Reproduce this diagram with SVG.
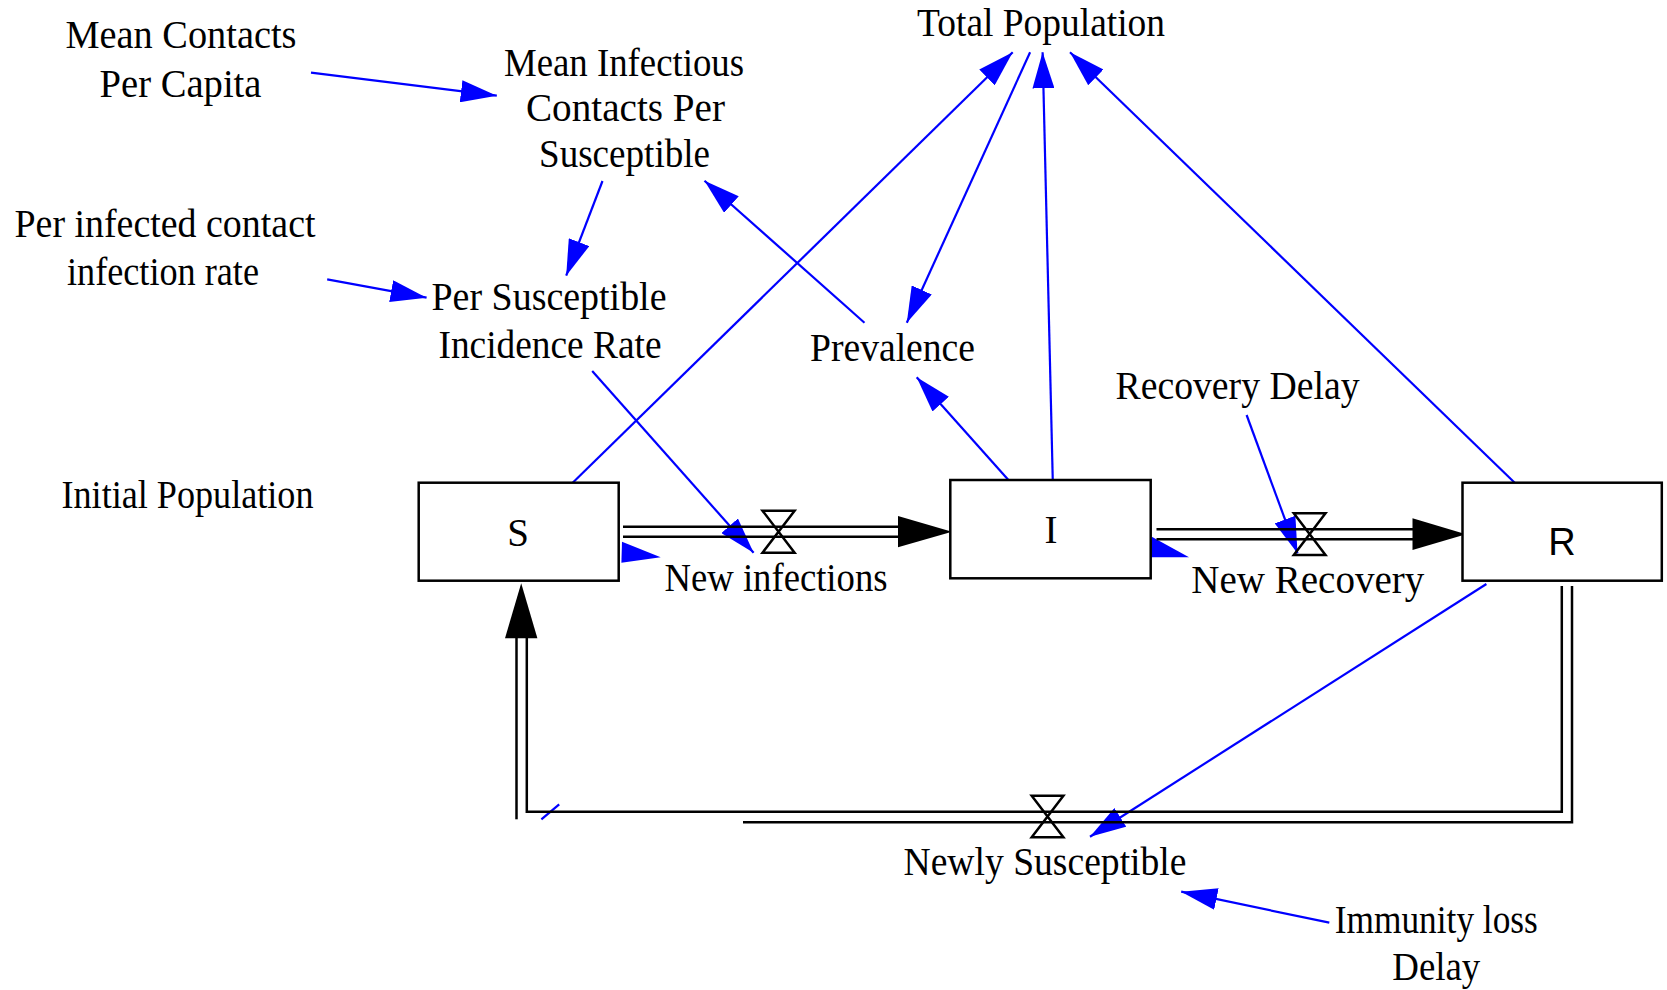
<svg xmlns="http://www.w3.org/2000/svg" width="1667" height="990" viewBox="0 0 1667 990">
<style>
  text { font-family: "Liberation Serif", "Times New Roman", serif; font-size: 39px; fill: #000; text-anchor: middle; }
  .sans { font-family: "Liberation Sans", Arial, sans-serif; font-size: 38px; }
  .box { fill: #fff; stroke: #000; stroke-width: 2.5; }
  .pipe { fill: none; stroke: #000; stroke-width: 2.5; }
  .valve { fill: none; stroke: #000; stroke-width: 2.5; stroke-linejoin: miter; }
  .link { fill: none; stroke: #0000ff; stroke-width: 2.2; marker-end: url(#ah); }
  .blue { fill: #0000ff; stroke: none; }
  .flowhead { fill: #000; stroke: none; }
</style>
<defs>
  <marker id="ah" markerUnits="userSpaceOnUse" markerWidth="36" markerHeight="22" refX="36" refY="11" orient="auto">
    <path d="M0,0 L36,11 L0,22 Z" fill="#0000ff"/>
  </marker>
</defs>
<rect width="1667" height="990" fill="#fff"/>

<g id="connectors">
  <line class="link" x1="311" y1="72.7" x2="496.8" y2="95.7"/>
  <line class="link" x1="327.2" y1="279.3" x2="426.6" y2="297.7"/>
  <line class="link" x1="602.5" y1="181" x2="566.2" y2="275.7"/>
  <line class="link" x1="864.5" y1="322.7" x2="704.5" y2="180.7"/>
  <line class="link" x1="571.4" y1="484" x2="1012.7" y2="52.3"/>
  <line class="link" x1="1030.1" y1="52.3" x2="906.8" y2="322.7"/>
  <line class="link" x1="1052.8" y1="481.7" x2="1042.6" y2="52.3"/>
  <line class="link" x1="1516" y1="484" x2="1070" y2="52.3"/>
  <line class="link" x1="1010" y1="481.7" x2="916.7" y2="377.3"/>
  <line class="link" x1="1246.6" y1="415" x2="1297.5" y2="553.3"/>
  <line class="link" x1="592.2" y1="371" x2="753.6" y2="552.7"/>
  <line class="link" x1="1486.4" y1="584" x2="1090" y2="836.7"/>
  <line class="link" x1="1329.3" y1="922.7" x2="1181.2" y2="891.7"/>
  <line x1="541.4" y1="819.3" x2="559.2" y2="804.3" stroke="#0000ff" stroke-width="2.2"/>
  <polygon class="blue" points="622,541.7 660.7,557.3 621.4,562.7"/>
  <polygon class="blue" points="1151.8,536.7 1189,557.3 1149,557.3"/>

  <!-- flow S -> I -->
  <line class="pipe" x1="623" y1="526.7" x2="900" y2="526.7"/>
  <line class="pipe" x1="623" y1="536.7" x2="900" y2="536.7"/>
  <polygon class="flowhead" points="898,516 952,531.7 898,547.3"/>
  <path class="valve" d="M762.5,510.7 H794.6 L762.5,552.7 H794.6 Z"/>

  <!-- flow I -> R -->
  <line class="pipe" x1="1156.5" y1="529.3" x2="1414" y2="529.3"/>
  <line class="pipe" x1="1156.5" y1="539.3" x2="1414" y2="539.3"/>
  <polygon class="flowhead" points="1412.5,518.3 1466,534.3 1412.5,550"/>
  <path class="valve" d="M1293.8,513.3 H1325.5 L1293.8,555 H1325.5 Z"/>

  <!-- flow R -> S -->
  <polyline class="pipe" points="1561.8,586 1561.8,811.7 526.8,811.7 526.8,636"/>
  <polyline class="pipe" points="1572,586 1572,822.3 743,822.3"/>
  <line class="pipe" x1="516.5" y1="636" x2="516.5" y2="819.3"/>
  <polygon class="flowhead" points="521.2,583.3 505,638.3 537.4,638.3"/>
  <path class="valve" d="M1031.7,795.7 H1063.4 L1031.7,837.3 H1063.4 Z"/>
</g>

<g id="S">
  <rect class="box" x="418.7" y="482.7" width="200" height="98"/>
  <text x="518" y="546">S</text>
</g>
<g id="I">
  <rect class="box" x="950.3" y="480" width="200.4" height="98.3"/>
  <text x="1051" y="543">I</text>
</g>
<g id="R">
  <rect class="box" x="1462.5" y="482.7" width="199.3" height="98"/>
  <text class="sans" x="1562" y="555">R</text>
</g>

<g id="mean-contacts-per-capita"><text x="181" y="48" textLength="231" lengthAdjust="spacingAndGlyphs">Mean Contacts</text><text x="180.5" y="96.5" textLength="162" lengthAdjust="spacingAndGlyphs">Per Capita</text></g>
<g id="mean-infectious-contacts"><text x="624" y="76" textLength="240" lengthAdjust="spacingAndGlyphs">Mean Infectious</text><text x="625.5" y="121" textLength="199" lengthAdjust="spacingAndGlyphs">Contacts Per</text><text x="624.5" y="166.5" textLength="171" lengthAdjust="spacingAndGlyphs">Susceptible</text></g>
<g id="per-infected-contact-rate"><text x="165" y="236.5" textLength="301" lengthAdjust="spacingAndGlyphs">Per infected contact</text><text x="163" y="285" textLength="192" lengthAdjust="spacingAndGlyphs">infection rate</text></g>
<g id="per-susceptible-incidence-rate"><text x="549" y="309.5" textLength="235" lengthAdjust="spacingAndGlyphs">Per Susceptible</text><text x="550" y="358" textLength="223" lengthAdjust="spacingAndGlyphs">Incidence Rate</text></g>
<g id="total-population"><text x="1041" y="36" textLength="248" lengthAdjust="spacingAndGlyphs">Total Population</text></g>
<g id="prevalence"><text x="892.5" y="360.5" textLength="165" lengthAdjust="spacingAndGlyphs">Prevalence</text></g>
<g id="recovery-delay"><text x="1237.5" y="399" textLength="244" lengthAdjust="spacingAndGlyphs">Recovery Delay</text></g>
<g id="initial-population"><text x="187.5" y="508.3" textLength="252" lengthAdjust="spacingAndGlyphs">Initial Population</text></g>
<g id="new-infections"><text x="776" y="591" textLength="223" lengthAdjust="spacingAndGlyphs">New infections</text></g>
<g id="new-recovery"><text x="1307.8" y="593" textLength="233" lengthAdjust="spacingAndGlyphs">New Recovery</text></g>
<g id="newly-susceptible"><text x="1045" y="875" textLength="283" lengthAdjust="spacingAndGlyphs">Newly Susceptible</text></g>
<g id="immunity-loss-delay"><text x="1436.3" y="933" textLength="203" lengthAdjust="spacingAndGlyphs">Immunity loss</text><text x="1436.3" y="980" textLength="88" lengthAdjust="spacingAndGlyphs">Delay</text></g>
</svg>
